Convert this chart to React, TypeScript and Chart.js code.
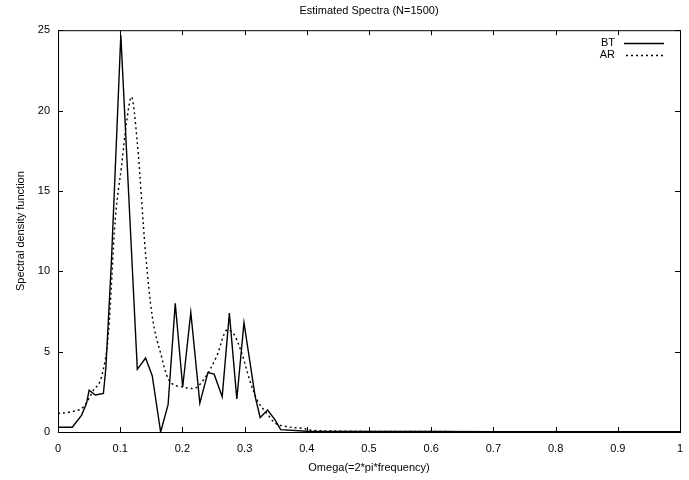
import React, { useEffect, useRef } from "react";
import { Chart, registerables } from "chart.js";

Chart.register(...registerables);

const titleText = "Estimated Spectra (N=1500)";
const xTitle = "Omega(=2*pi*frequency)";
const yTitle = "Spectral density function";

const xTicks = [0, 0.1, 0.2, 0.3, 0.4, 0.5, 0.6, 0.7, 0.8, 0.9, 1];
const yTicks = [0, 5, 10, 15, 20, 25];

const btOmega = [0, 0.023, 0.038, 0.046, 0.05, 0.06, 0.073, 0.077, 0.086, 0.101, 0.1275, 0.1408, 0.1515, 0.165, 0.177, 0.1885, 0.2005, 0.2135, 0.228, 0.241, 0.251, 0.264, 0.2755, 0.2875, 0.299, 0.317, 0.325, 0.337, 0.349, 0.358, 0.4, 0.5, 0.6, 0.7, 0.8, 0.9, 1];
const btValue = [0.3, 0.3, 1.05, 1.8, 2.6, 2.3, 2.4, 4.0, 10.7, 24.7, 3.9, 4.6, 3.5, 0.0, 1.7, 8.0, 2.8, 7.45, 1.8, 3.7, 3.6, 2.2, 7.4, 2.05, 6.8, 2.2, 0.9, 1.37, 0.75, 0.15, 0.05, 0.03, 0.03, 0.02, 0.02, 0.02, 0.02];

const arOmega = [0, 0.02, 0.041, 0.057, 0.07, 0.081, 0.092, 0.102, 0.11, 0.118, 0.1275, 0.1408, 0.1515, 0.165, 0.178, 0.2, 0.218, 0.234, 0.255, 0.272, 0.283, 0.2955, 0.308, 0.32, 0.336, 0.349, 0.363, 0.379, 0.395, 0.405, 0.45, 0.5, 0.6, 0.7, 0.8, 0.9, 1];
const arValue = [1.15, 1.25, 1.57, 2.6, 3.45, 6.1, 13.2, 16.5, 19.2, 20.85, 18, 11.1, 7.2, 4.9, 3.25, 2.8, 2.7, 3.25, 4.7, 6.35, 6.07, 4.9, 3.25, 2.0, 1.15, 0.55, 0.37, 0.27, 0.22, 0.12, 0.06, 0.04, 0.03, 0.02, 0.02, 0.02, 0.02];

const legendLabels = ["BT", "AR"];

const FONT = '"Liberation Sans", Arial, Helvetica, sans-serif';

const framePlugin = {
  id: "frame",
  afterDraw(chart: any) {
    const { ctx, chartArea: a, scales } = chart;
    ctx.save();
    ctx.strokeStyle = "#000";
    ctx.lineWidth = 1;
    ctx.strokeRect(a.left + 0.5, a.top + 0.5, a.right - a.left, a.bottom - a.top);
    const L = 5;
    const seg = (x1: number, y1: number, x2: number, y2: number) => {
      ctx.beginPath();
      ctx.moveTo(x1, y1);
      ctx.lineTo(x2, y2);
      ctx.stroke();
    };
    xTicks.forEach((v) => {
      const px = Math.round(scales.x.getPixelForValue(v)) + 0.5;
      seg(px, a.bottom, px, a.bottom - L);
      seg(px, a.top, px, a.top + L);
    });
    yTicks.forEach((v) => {
      const py = Math.round(scales.y.getPixelForValue(v)) + 0.5;
      seg(a.left, py, a.left + L, py);
      seg(a.right, py, a.right - L, py);
    });
    // legend
    ctx.fillStyle = "#000";
    ctx.font = "11px " + FONT;
    ctx.textAlign = "right";
    ctx.textBaseline = "middle";
    const lx = a.right - 65;
    ctx.fillText(legendLabels[0], lx, 43);
    ctx.fillText(legendLabels[1], lx, 55);
    ctx.lineWidth = 1.3;
    seg(lx + 9, 43.5, lx + 49, 43.5);
    ctx.setLineDash([2, 3]);
    seg(lx + 11, 55.5, lx + 49, 55.5);
    ctx.restore();
  },
};

export default function App() {
  const ref = useRef<HTMLCanvasElement | null>(null);
  useEffect(() => {
    if (!ref.current) return;
    Chart.defaults.color = "#000";
    const chart = new Chart(ref.current, {
      type: "line",
      data: {
        datasets: [
          {
            label: legendLabels[0],
            data: btOmega.map((x, i) => ({ x, y: btValue[i] })),
            borderColor: "#000",
            borderWidth: 1.4,
            pointRadius: 0,
            tension: 0,
          },
          {
            label: legendLabels[1],
            data: arOmega.map((x, i) => ({ x, y: arValue[i] })),
            borderColor: "#000",
            borderWidth: 1.4,
            borderDash: [2, 3],
            pointRadius: 0,
            cubicInterpolationMode: "monotone",
          },
        ],
      },
      options: {
        animation: false,
        responsive: false,
        layout: { padding: { top: 0, right: 9, left: 0, bottom: 0 } },
        plugins: {
          legend: { display: false },
          tooltip: { enabled: false },
          title: {
            display: true,
            text: titleText,
            fullSize: false,
            font: { family: FONT, size: 11, weight: "normal" },
            padding: { top: 4, bottom: 13 },
            color: "#000",
          },
        },
        scales: {
          x: {
            type: "linear",
            min: 0,
            max: 1,
            afterFit: (s: any) => {
              s.height = 48;
            },
            afterBuildTicks: (s: any) => {
              s.ticks = xTicks.map((v) => ({ value: v }));
            },
            grid: { display: false },
            border: { display: false },
            ticks: {
              font: { family: FONT, size: 11 },
              padding: 2,
              maxRotation: 0,
              autoSkip: false,
              callback: (v: any) => String(v),
            },
            title: {
              display: true,
              text: xTitle,
              font: { family: FONT, size: 11 },
              padding: { top: 0, bottom: 5 },
            },
          },
          y: {
            type: "linear",
            min: 0,
            max: 25,
            afterFit: (s: any) => {
              s.width = 58;
            },
            afterBuildTicks: (s: any) => {
              s.ticks = yTicks.map((v) => ({ value: v }));
            },
            grid: { display: false },
            border: { display: false },
            ticks: {
              font: { family: FONT, size: 11 },
              padding: 0,
              autoSkip: false,
              callback: (v: any) => String(v),
            },
            title: {
              display: true,
              text: yTitle,
              font: { family: FONT, size: 11 },
              padding: { top: 14, bottom: 0 },
            },
          },
        },
      },
      plugins: [framePlugin],
    } as any);
    return () => chart.destroy();
  }, []);
  return (
    <div style={{ position: "absolute", left: 0, top: 0, width: 689, height: 480, background: "#fff" }}>
      <canvas ref={ref} width={689} height={480} style={{ display: "block" }} />
    </div>
  );
}
